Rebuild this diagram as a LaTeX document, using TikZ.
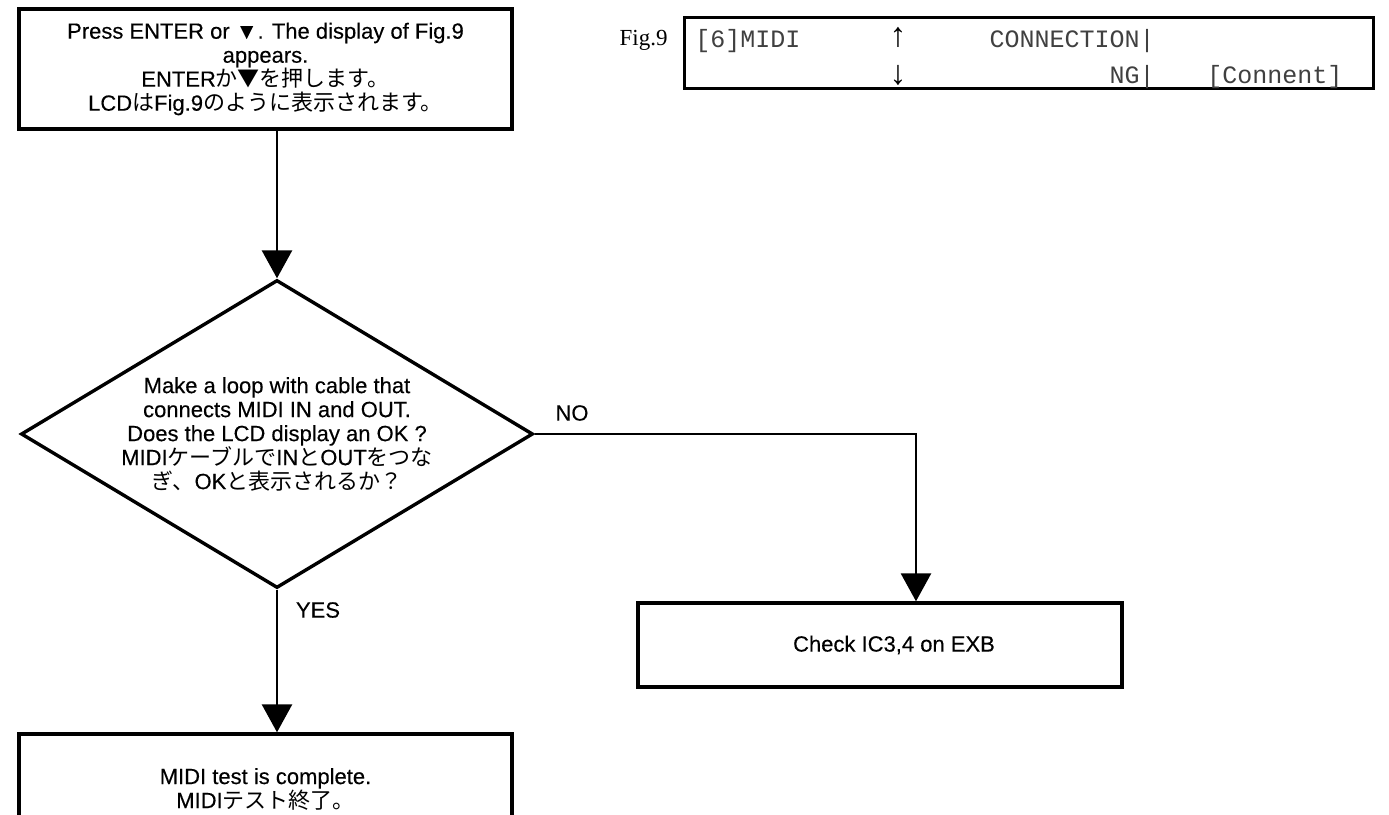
\documentclass[tikz,border=0pt]{standalone}
\usepackage{fontspec}
\setmainfont{Liberation Sans}[FakeBold=0.3]
\newfontfamily\jp{Noto Sans CJK JP}
\newfontfamily\lcdfont{Liberation Mono}
\newfontfamily\figfont{Liberation Serif}
\usetikzlibrary{shapes.geometric}
\usetikzlibrary{arrows.meta}

\begin{document}
\begin{tikzpicture}[x=0.5pt,y=-0.5pt,
        font=\fontsize{11}{12}\selectfont,
        stepbox/.style={draw,line width=1.7pt,align=center,inner sep=0pt},
        askbox/.style={diamond,draw,line width=1.7pt,align=center,inner sep=0pt,aspect=1.66,minimum width=256pt,minimum height=154pt},
        flow/.style={line width=1.4pt,-{Triangle[width=15pt,length=14pt]}},
        lcdtext/.style={font=\lcdfont\fontsize{12.5}{14}\selectfont,text=black!75,inner sep=0pt},
        lcdarrow/.style={font=\lcdfont\fontsize{17}{18}\selectfont,inner sep=0pt}]
        \useasboundingbox (0,0) rectangle (1389,815);
        \clip (0,0) rectangle (1389,815);
        \node[stepbox,minimum width=246.5pt,minimum height=60pt] (enter) at (265.5,69) {Press ENTER or ▼. The display of Fig.9\\appears.\\ENTER{\jp か▼を押します。}\\LCD{\jp は}Fig.9{\jp のように表示されます。}};
        \node[askbox] (loop) at (277,434) {Make a loop with cable that\\connects MIDI IN and OUT.\\Does the LCD display an OK ?\\MIDI{\jp ケーブルで}IN{\jp と}OUT{\jp をつな}\\{\jp ぎ、}OK{\jp と表示されるか？}};
        \node[stepbox,minimum width=242pt,minimum height=42pt] (check) at (880,645) {\hspace*{14pt}Check IC3,4 on EXB};
        \node[stepbox,minimum width=246.5pt,minimum height=55pt] (done) at (265.5,789) {MIDI test is complete.\\MIDI{\jp テスト終了。}};
        \coordinate (nocorner) at (916,434);
        \draw[flow] (enter.south -| loop.north) -- (loop.north);
        \draw[flow] (loop.south) -- (loop.south |- done.north);
        \draw[flow] (loop.east) -- (nocorner) -- (nocorner |- check.north);
        \node (no) at (572,413) {NO};
        \node (yes) at (318,610) {YES};
        \node[draw,line width=1.5pt,minimum width=344.5pt,minimum height=35.5pt,inner sep=0pt] (lcd) at (1028.5,52.5) {};
        \node[font=\figfont\fontsize{11.5}{13}\selectfont,anchor=base east,inner sep=0pt] (fig) at (668,45) {Fig.9};
        \node[lcdtext,anchor=base west] (menu) at (695,47) {[6]MIDI};
        \node[lcdarrow,anchor=base] (up) at (898,46) {↑};
        \node[lcdtext,anchor=base east] (item) at (1155,47) {CONNECTION|};
        \node[lcdarrow,anchor=base] (down) at (898,84) {↓};
        \node[lcdtext,anchor=base east] (result) at (1155,83) {NG|};
        \node[lcdtext,anchor=base west] (hint) at (1207,83) {[Connent]};
    \end{tikzpicture}
\end{document}
